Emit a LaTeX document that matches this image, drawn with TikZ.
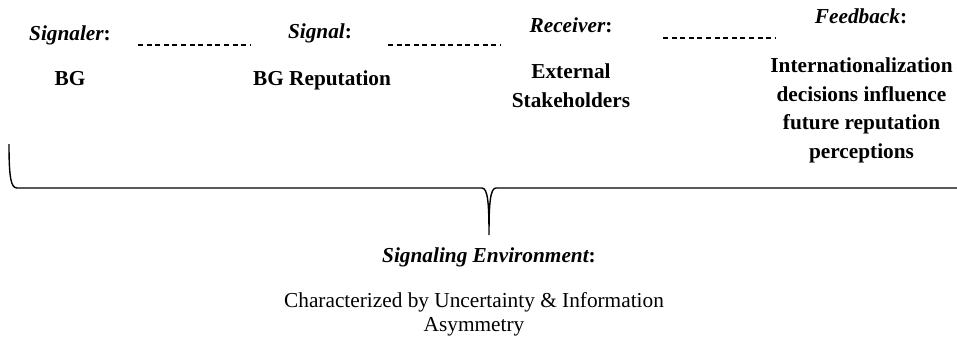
\documentclass[tikz,border=0pt]{standalone}
\usepackage{fontspec}
\setmainfont{Liberation Serif}
\begin{document}
\begin{tikzpicture}[x=1pt,y=-1pt,
  lbl/.style={anchor=base,inner sep=0pt,font=\fontsize{21.3}{28.5}\selectfont\bfseries\itshape},
  val/.style={anchor=base,inner sep=0pt,align=center,font=\fontsize{21.3}{28.5}\selectfont\bfseries},
  plain/.style={anchor=base,inner sep=0pt,align=center,font=\fontsize{21.3}{24}\selectfont},
  dashsep/.style={line width=1.1pt,dash pattern=on 5pt off 3.6pt},
  bracepath/.style={line width=1.4pt,black}]
\useasboundingbox (0,0) rectangle (957,340);
% headers
\node[lbl] (signaler) at (70,40) {Signaler\upshape:};
\node[lbl] (signal) at (320,38) {Signal\upshape:};
\node[lbl] (receiver) at (571,32) {Receiver\upshape:};
\node[lbl] (feedback) at (861,23) {Feedback\upshape:};
% values (base anchor = last line baseline)
\node[val] (bg) at (70,85) {BG};
\node[val] (bgrep) at (322,85) {BG Reputation};
\node[val] (ext) at (571,107) {External\\Stakeholders};
\node[val] (intl) at (861.5,158) {Internationalization\\decisions influence\\future reputation\\perceptions};
% dashed separators
\coordinate (d1a) at (138,45); \coordinate (d1b) at (251,45);
\coordinate (d2a) at (388,45); \coordinate (d2b) at (501,45);
\coordinate (d3a) at (663,38); \coordinate (d3b) at (776,38);
\draw[dashsep] (d1a) -- (d1b);
\draw[dashsep] (d2a) -- (d2b);
\draw[dashsep] (d3a) -- (d3b);
% brace
\coordinate (bl) at (9,144);
\coordinate (tip) at (489,235);
\coordinate (br) at (957,188);
\draw[bracepath] (bl) .. controls (9,178) and (11,188) .. (17,188)
  -- (482,188) .. controls (488,188) and (489,205) .. (tip)
  .. controls (489,205) and (490,188) .. (496,188) -- (br);
% environment
\node[lbl] (env) at (489,262) {Signaling Environment\upshape:};
\node[plain] (envtxt) at (474,331) {Characterized by Uncertainty \& Information\\Asymmetry};
\end{tikzpicture}
\end{document}
